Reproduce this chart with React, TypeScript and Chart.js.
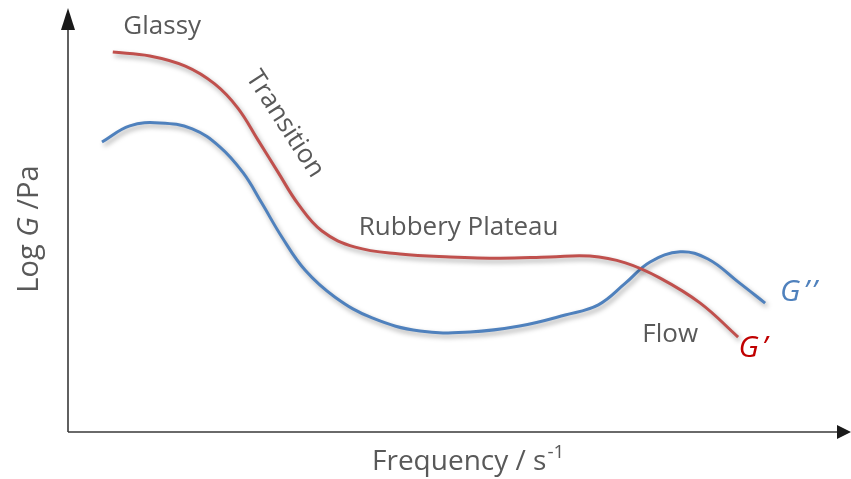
import React, { useEffect, useRef } from "react";
import { Chart, registerables } from "chart.js";

Chart.register(...registerables);

// Frequency axis (relative units, 0..100) and Log G (relative units, 0..100)
const gPrimeX = [5.8, 10.6, 15.2, 19.0, 22.0, 24.6, 27.2, 29.8, 32.9, 37.2, 43.0, 49.5, 56.0, 62.4, 67.6, 72.2, 76.7, 81.9, 86.8];
const gPrimeY = [89.6, 88.7, 86.3, 82.1, 76.4, 68.9, 61.3, 53.8, 47.4, 43.6, 42.0, 41.3, 41.0, 41.3, 41.5, 39.9, 36.3, 30.4, 22.4];

const gDoublePrimeX = [4.4, 8.0, 11.9, 16.1, 19.7, 22.7, 25.1, 27.7, 30.7, 34.6, 39.4, 45.6, 52.1, 58.5, 64.4, 68.7, 72.2, 75.4, 79.3, 82.9, 86.8, 90.3];
const gDoublePrimeY = [68.4, 72.2, 72.9, 71.5, 67.2, 61.1, 54.0, 46.0, 38.2, 31.8, 26.9, 23.8, 23.6, 25.0, 27.6, 30.0, 35.1, 40.1, 42.5, 40.8, 35.4, 30.4];

const regionLabels = ["Glassy", "Transition", "Rubbery Plateau", "Flow"];
const regionX = [12.2, 28.1, 50.6, 78.0];
const regionY = [95.5, 72.6, 48.1, 22.9];
const regionAngle = [0, 57, 0, 0];

const seriesLabels = ["G\u2019", "G\u2019\u2019"];
const seriesLabelX = [88.9, 94.8];
const seriesLabelY = [19.8, 32.8];

const xTitle = "Frequency / s";
const xTitleSup = "-1";
const yTitleParts = ["Log ", "G", " /Pa"];

const RED = "#C0504D";
const BLUE = "#4F81BD";
const TEXT = "#595959";
const FONT = "'Open Sans', Lato, sans-serif";

export default function App() {
  const ref = useRef<HTMLCanvasElement>(null);
  useEffect(() => {
    const canvas = ref.current!;
    const shadowPlugin = {
      id: "shadow",
      beforeDatasetDraw(chart: any) {
        const ctx = chart.ctx;
        ctx.save();
        ctx.shadowColor = "rgba(0,0,0,0.35)";
        ctx.shadowBlur = 5;
        ctx.shadowOffsetX = 2;
        ctx.shadowOffsetY = 3;
      },
      afterDatasetDraw(chart: any) {
        chart.ctx.restore();
      },
    };
    const decor = {
      id: "decor",
      afterDraw(chart: any) {
        const ctx = chart.ctx as CanvasRenderingContext2D;
        const { left, top, bottom } = chart.chartArea;
        const W = chart.width;
        const xs = chart.scales.x;
        const ys = chart.scales.y;
        ctx.save();
        // axes
        ctx.strokeStyle = "#3a3a3a";
        ctx.fillStyle = "#1a1a1a";
        ctx.lineWidth = 1.6;
        ctx.beginPath();
        ctx.moveTo(left, bottom);
        ctx.lineTo(left, top + 18);
        ctx.moveTo(left, bottom);
        ctx.lineTo(W - 12, bottom);
        ctx.stroke();
        ctx.beginPath();
        ctx.moveTo(left, top);
        ctx.lineTo(left - 7, top + 22);
        ctx.lineTo(left + 7, top + 22);
        ctx.closePath();
        ctx.fill();
        ctx.beginPath();
        ctx.moveTo(W, bottom);
        ctx.lineTo(W - 14, bottom - 7);
        ctx.lineTo(W - 14, bottom + 7);
        ctx.closePath();
        ctx.fill();

        // region labels
        ctx.fillStyle = TEXT;
        ctx.textAlign = "center";
        ctx.textBaseline = "middle";
        ctx.font = `26px ${FONT}`;
        regionLabels.forEach((t, i) => {
          const px = xs.getPixelForValue(regionX[i]);
          const py = ys.getPixelForValue(regionY[i]);
          ctx.save();
          ctx.translate(px, py);
          ctx.rotate((regionAngle[i] * Math.PI) / 180);
          ctx.fillText(t, 0, 0);
          ctx.restore();
        });

        // series labels
        ctx.font = `italic 30px ${FONT}`;
        (ctx as any).letterSpacing = "3px";
        seriesLabels.forEach((t, i) => {
          ctx.fillStyle = i === 0 ? "#C00000" : BLUE;
          ctx.fillText(t, xs.getPixelForValue(seriesLabelX[i]), ys.getPixelForValue(seriesLabelY[i]));
        });
        (ctx as any).letterSpacing = "0px";

        // x title
        ctx.fillStyle = TEXT;
        ctx.font = `28px ${FONT}`;
        ctx.textAlign = "left";
        ctx.textBaseline = "alphabetic";
        const xt = 372;
        ctx.fillText(xTitle, xt, 470);
        const w1 = ctx.measureText(xTitle).width;
        ctx.font = `19px ${FONT}`;
        ctx.fillText(xTitleSup, xt + w1 + 1, 458);

        // y title
        ctx.save();
        ctx.translate(38, 229);
        ctx.rotate(-Math.PI / 2);
        const fonts = [`29px ${FONT}`, `italic 29px ${FONT}`, `29px ${FONT}`];
        let total = 0;
        yTitleParts.forEach((p, i) => {
          ctx.font = fonts[i];
          total += ctx.measureText(p).width;
        });
        let cx = -total / 2;
        yTitleParts.forEach((p, i) => {
          ctx.font = fonts[i];
          ctx.fillText(p, cx, 0);
          cx += ctx.measureText(p).width;
        });
        ctx.restore();
        ctx.restore();
      },
    };
    const chart = new Chart(canvas, {
      type: "line",
      data: {
        datasets: [
          {
            label: "G'",
            data: gPrimeX.map((x, i) => ({ x, y: gPrimeY[i] })),
            borderColor: RED,
            borderWidth: 3,
            pointRadius: 0,
            tension: 0.4,
            fill: false,
          },
          {
            label: "G''",
            data: gDoublePrimeX.map((x, i) => ({ x, y: gDoublePrimeY[i] })),
            borderColor: BLUE,
            borderWidth: 3,
            pointRadius: 0,
            tension: 0.4,
            fill: false,
          },
        ],
      },
      options: {
        animation: false,
        responsive: false,
        devicePixelRatio: 1,
        layout: { padding: { left: 68, right: 11, top: 8, bottom: 47 } },
        plugins: { legend: { display: false }, tooltip: { enabled: false } },
        scales: {
          x: { type: "linear", min: 0, max: 100, display: false },
          y: { type: "linear", min: 0, max: 100, display: false },
        },
      },
      plugins: [shadowPlugin, decor],
    });
    return () => chart.destroy();
  }, []);
  return (
    <div style={{ position: "fixed", left: 0, top: 0, width: 851, height: 479, background: "#fff" }}>
      <canvas ref={ref} width={851} height={479} />
    </div>
  );
}
